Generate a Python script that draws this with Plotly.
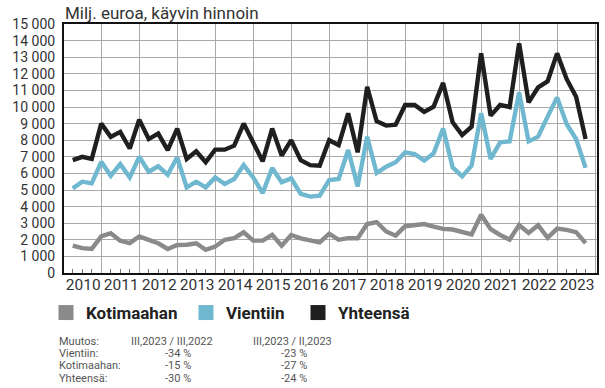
import plotly.graph_objects as go

quarters = list(range(55))  # 2010 Q1 ... 2023 Q3
years = [str(y) for y in range(2010, 2024)]

kotimaahan = [1650, 1500, 1450, 2200, 2400, 1950, 1800, 2200, 2000, 1790, 1450, 1690, 1700, 1790,
              1400, 1590, 2000, 2100, 2450, 1950, 1950, 2300, 1650, 2290, 2090, 1950, 1850, 2370,
              2000, 2100, 2090, 2950, 3070, 2500, 2250, 2820, 2900, 2950, 2800, 2660, 2620, 2470,
              2320, 3510, 2640, 2290, 2010, 2890, 2410, 2880, 2120, 2670, 2600, 2460, 1800]
vientiin = [5100, 5500, 5400, 6700, 5860, 6560, 5760, 7000, 6100, 6430, 5920, 6970, 5160, 5500,
            5160, 5760, 5360, 5660, 6500, 5760, 4820, 6330, 5460, 5700, 4760, 4600, 4660, 5600,
            5660, 7410, 5220, 8210, 6020, 6400, 6670, 7270, 7170, 6770, 7210, 8710, 6370, 5820,
            6470, 9620, 6870, 7870, 7930, 10880, 7930, 8210, 9420, 10580, 8980, 8070, 6330]
yhteensa = [6800, 7000, 6870, 9000, 8200, 8500, 7500, 9240, 8070, 8400, 7400, 8700, 6870, 7330,
            6670, 7430, 7430, 7670, 9000, 7870, 6730, 8700, 7070, 8000, 6800, 6500, 6470, 8000,
            7700, 9620, 7270, 11220, 9140, 8880, 8940, 10120, 10120, 9710, 10020, 11450, 9080, 8310,
            8820, 13230, 9480, 10120, 10000, 13840, 10280, 11180, 11550, 13230, 11690, 10620, 8070]

series_names = ["Kotimaahan", "Vientiin", "Yhteensä"]
series_colors = ["#8a8a8a", "#6fb8cf", "#1f1f1f"]

table_header = ["Muutos:", "III,2023 / III,2022", "III,2023 / II,2023"]
table_rows = [["Vientiin:", "-34 %", "-23 %"],
              ["Kotimaahan:", "-15 %", "-27 %"],
              ["Yhteensä:", "-30 %", "-24 %"]]

W, H = 605, 388
ML, MR, MT, MB = 64, 8, 24, 115
PW, PH = W - ML - MR, H - MT - MB

XR = [-0.92, 55.2]

fig = go.Figure()
for vals, name, col in zip([kotimaahan, vientiin, yhteensa], series_names, series_colors):
    fig.add_trace(go.Scatter(x=quarters, y=vals, mode="lines", name=name,
                             line=dict(color=col, width=4.4), showlegend=False,
                             hoverinfo="skip"))

# legend entries (squares), one legend each for exact placement
leg_x = [56, 196, 308]
for k, (name, col) in enumerate(zip(series_names, series_colors)):
    lname = "legend" if k == 0 else f"legend{k+1}"
    fig.add_trace(go.Scatter(x=[None], y=[None], mode="markers", name=name,
                             marker=dict(symbol="square", size=15, color=col),
                             legend=lname, xaxis="x2", showlegend=True))

font_family = "Roboto, 'DejaVu Sans', sans-serif"
leg_common = dict(orientation="h", xref="container", yref="container",
                  xanchor="left", yanchor="middle", bgcolor="rgba(0,0,0,0)",
                  font=dict(family="Roboto, sans-serif", size=17, color="#222", weight="bold"),
                  itemwidth=30, tracegroupgap=0)
layout_legs = {}
for k in range(3):
    lname = "legend" if k == 0 else f"legend{k+1}"
    layout_legs[lname] = dict(leg_common, x=(leg_x[k] - 10) / W, y=1 - 313 / H)

fig.update_layout(
    width=W, height=H,
    margin=dict(l=ML, r=MR, t=MT, b=MB, autoexpand=False),
    paper_bgcolor="white", plot_bgcolor="white",
    font=dict(family=font_family, color="#333"),
    separators=", ",
    xaxis=dict(range=XR, tickmode="linear", tick0=3, dtick=4, showticklabels=False,
               ticks="", showgrid=True, gridcolor="#a8a8a8", gridwidth=1, automargin=False,
               showline=True, linecolor="#111", linewidth=2, mirror=True, zeroline=False,
               minor=dict(tick0=0, dtick=1, ticks="inside", ticklen=4, tickwidth=1,
                          tickcolor="#777", showgrid=False)),
    xaxis2=dict(range=XR, overlaying="x", anchor="y", side="bottom", automargin=False,
                tickmode="array", tickvals=[1.1 + 4 * k for k in range(len(years))],
                ticktext=years, tickangle=0, showgrid=False, zeroline=False, showline=False,
                ticks="", tickfont=dict(size=15.5, color="#333")),
    yaxis=dict(range=[0, 15000], tickmode="linear", tick0=0, dtick=1000, tickformat=",.0f",
               showgrid=True, gridcolor="#a8a8a8", gridwidth=1, zeroline=False, automargin=False,
               showline=True, linecolor="#111", linewidth=2, mirror=True,
               ticks="", ticklabelstandoff=4, tickfont=dict(size=14, color="#333")),
    **layout_legs,
)

# title
fig.add_annotation(text="Milj. euroa, käyvin hinnoin", xref="paper", yref="paper",
                   x=-0.002, y=1.0, xanchor="left", yanchor="bottom", showarrow=False,
                   font=dict(size=17, color="#333"), yshift=-1)

def px_x(px):
    return (px - ML) / PW

def px_y(py):
    return (H - MB - py) / PH

row_y = [341.5, 353.7, 365.9, 378.1]
afont = dict(size=11, color="#555")
def add_txt(text, px, py, anchor):
    fig.add_annotation(text=text, xref="paper", yref="paper", x=px_x(px), y=px_y(py),
                       xanchor=anchor, yanchor="middle", showarrow=False, font=afont,
                       borderpad=0)

add_txt(table_header[0], 58, row_y[0], "left")
add_txt(table_header[1], 130, row_y[0], "left")
add_txt(table_header[2], 252, row_y[0], "left")
for r, row in enumerate(table_rows):
    add_txt(row[0], 58, row_y[r + 1], "left")
    add_txt(row[1], 178, row_y[r + 1], "center")
    add_txt(row[2], 294, row_y[r + 1], "center")

fig.write_html("out.html", config={"displayModeBar": False},
               post_script="document.body.style.margin='0px';")
